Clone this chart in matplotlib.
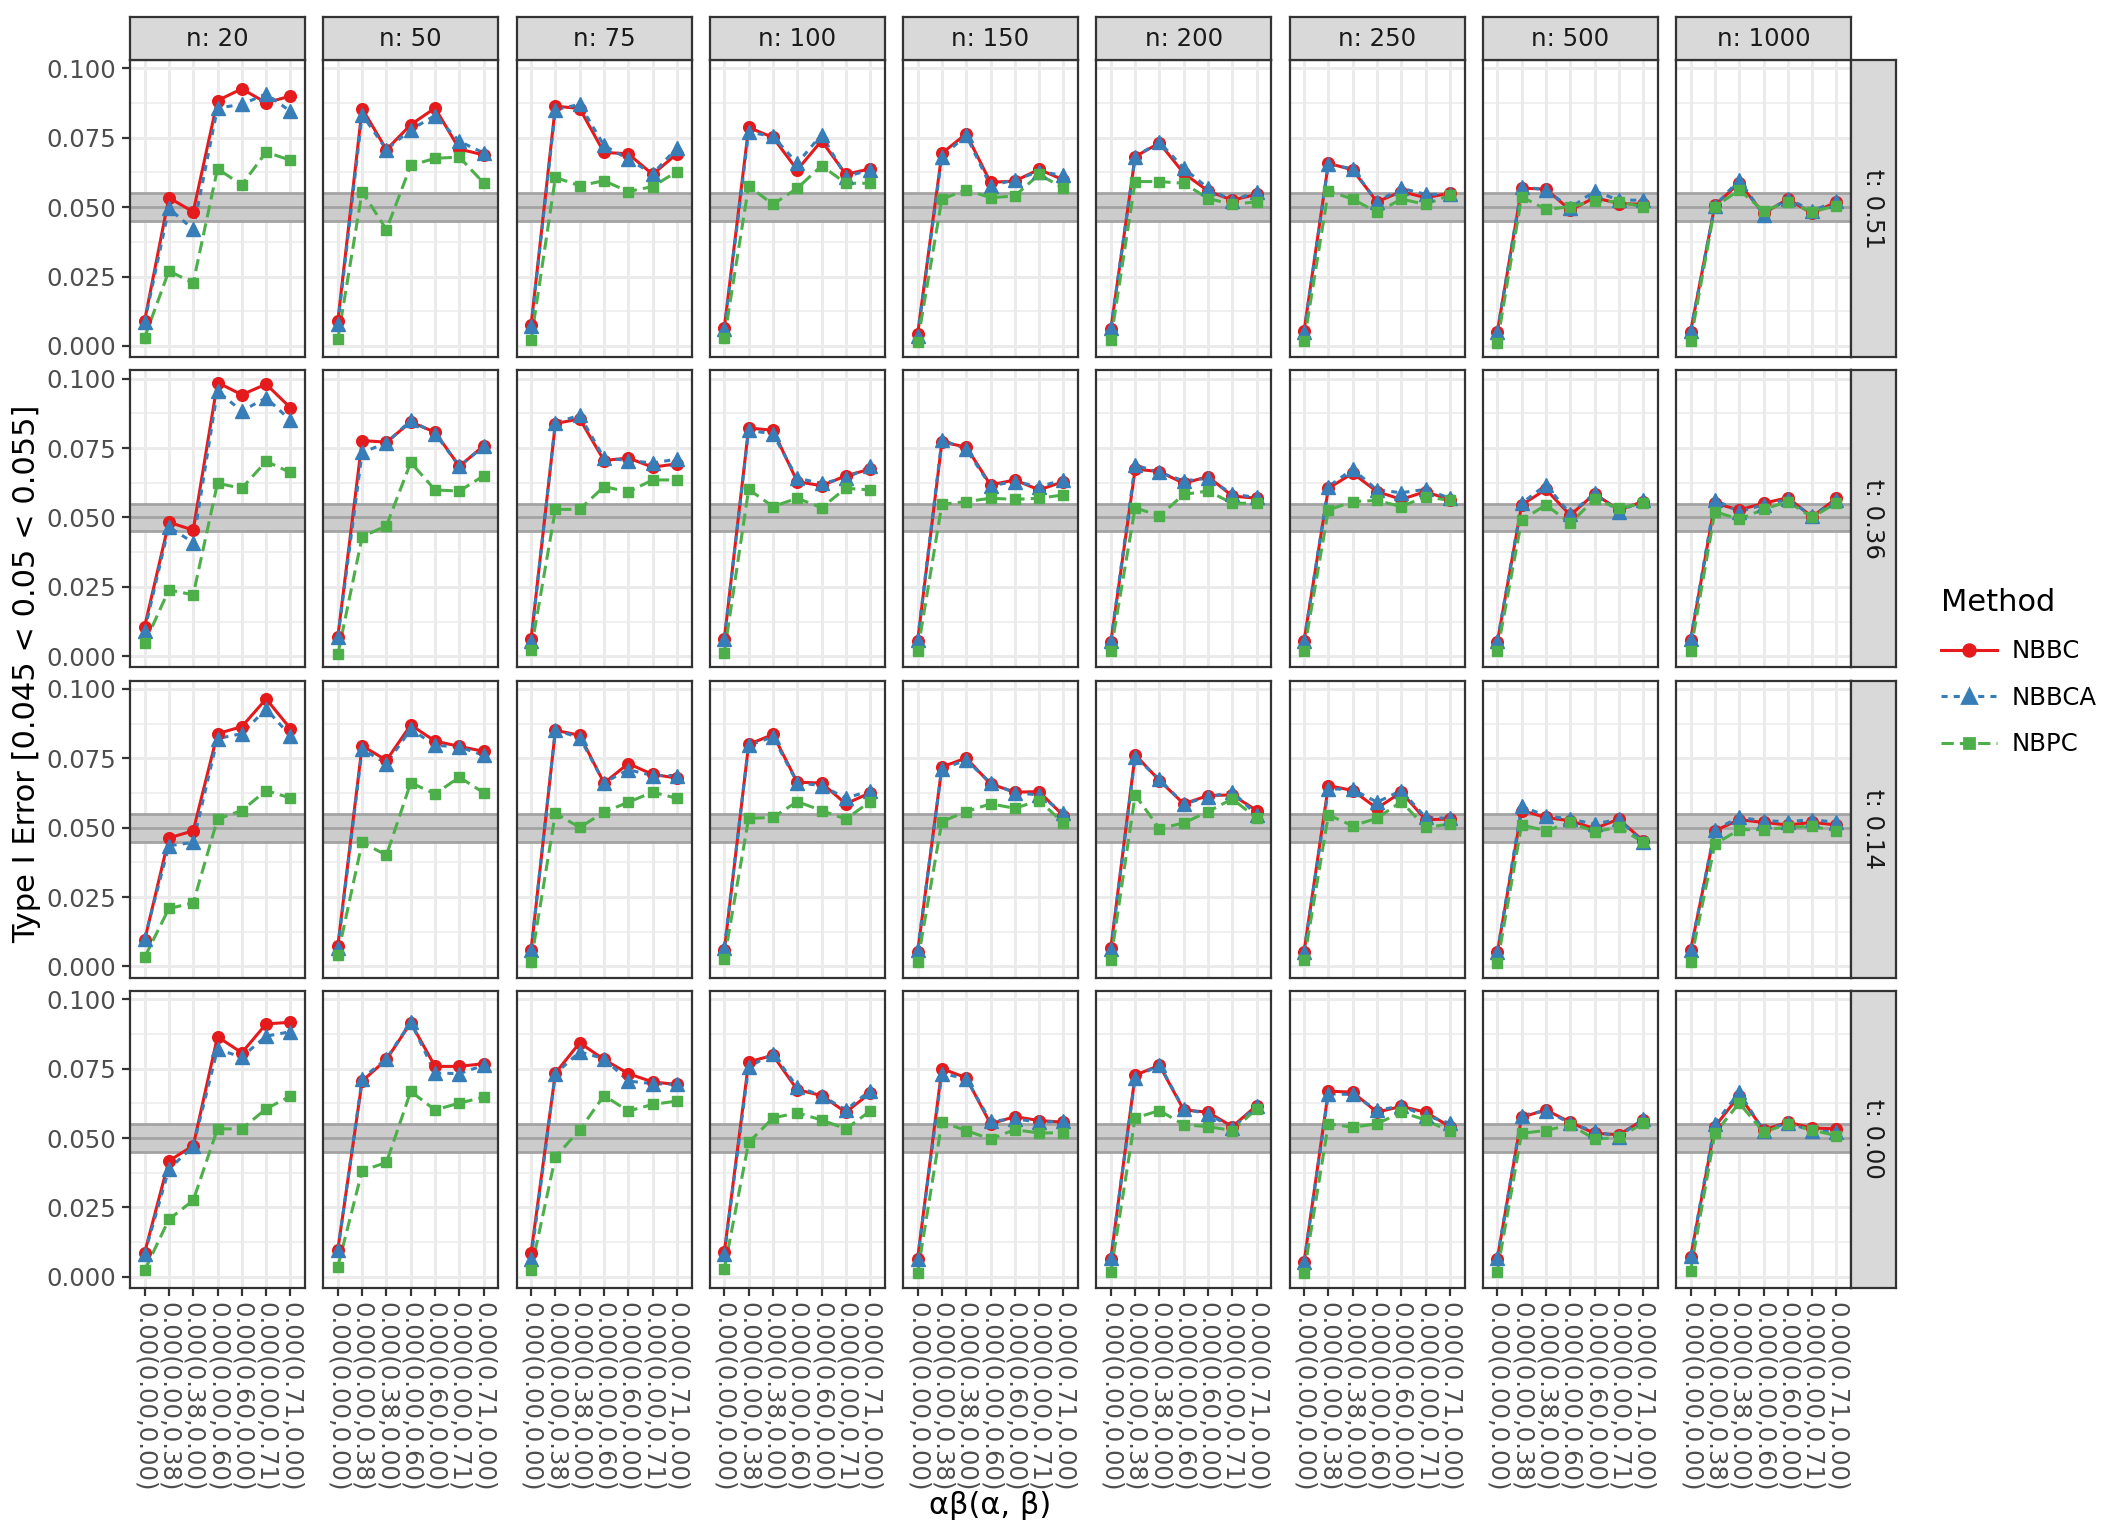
import matplotlib
matplotlib.use("Agg")
import matplotlib.pyplot as plt
from matplotlib.lines import Line2D

plt.rcParams.update({"font.family": "DejaVu Sans"})

# ------------------ DATA ------------------ #
T_LEVELS = ["0.51", "0.36", "0.14", "0.00"]
N_LEVELS = [20, 50, 75, 100, 150, 200, 250, 500, 1000]
X_LABELS = ["0.00(0.00,0.00)", "0.00(0.00,0.38)", "0.00(0.38,0.00)",
            "0.00(0.00,0.60)", "0.00(0.60,0.00)", "0.00(0.00,0.71)",
            "0.00(0.71,0.00)"]
METHODS = ["NBBC", "NBBCA", "NBPC"]

# one list per t level, 9 panels (n) x 7 settings
nbbc_t051 = [
    [0.0090, 0.0534, 0.0483, 0.0884, 0.0926, 0.0876, 0.0900],
    [0.0090, 0.0855, 0.0707, 0.0797, 0.0857, 0.0709, 0.0688],
    [0.0075, 0.0864, 0.0855, 0.0697, 0.0692, 0.0618, 0.0692],
    [0.0066, 0.0787, 0.0751, 0.0634, 0.0739, 0.0618, 0.0638],
    [0.0042, 0.0694, 0.0764, 0.0589, 0.0594, 0.0636, 0.0598],
    [0.0060, 0.0682, 0.0731, 0.0622, 0.0558, 0.0525, 0.0546],
    [0.0054, 0.0658, 0.0634, 0.0519, 0.0556, 0.0534, 0.0550],
    [0.0051, 0.0568, 0.0565, 0.0489, 0.0534, 0.0513, 0.0510],
    [0.0051, 0.0507, 0.0586, 0.0477, 0.0529, 0.0477, 0.0519],
]
nbbca_t051 = [
    [0.0085, 0.0495, 0.0420, 0.0857, 0.0870, 0.0908, 0.0845],
    [0.0078, 0.0833, 0.0707, 0.0779, 0.0830, 0.0737, 0.0695],
    [0.0070, 0.0851, 0.0870, 0.0722, 0.0673, 0.0620, 0.0713],
    [0.0060, 0.0770, 0.0755, 0.0658, 0.0761, 0.0610, 0.0634],
    [0.0036, 0.0682, 0.0758, 0.0577, 0.0598, 0.0628, 0.0614],
    [0.0063, 0.0682, 0.0734, 0.0640, 0.0568, 0.0523, 0.0556],
    [0.0051, 0.0655, 0.0638, 0.0519, 0.0568, 0.0546, 0.0546],
    [0.0051, 0.0574, 0.0562, 0.0497, 0.0558, 0.0525, 0.0525],
    [0.0054, 0.0505, 0.0598, 0.0473, 0.0531, 0.0486, 0.0522],
]
nbpc_t051 = [
    [0.0030, 0.0270, 0.0227, 0.0638, 0.0580, 0.0698, 0.0669],
    [0.0024, 0.0556, 0.0419, 0.0650, 0.0676, 0.0680, 0.0587],
    [0.0020, 0.0607, 0.0577, 0.0595, 0.0556, 0.0574, 0.0628],
    [0.0027, 0.0576, 0.0510, 0.0568, 0.0649, 0.0586, 0.0586],
    [0.0014, 0.0529, 0.0562, 0.0534, 0.0540, 0.0618, 0.0568],
    [0.0022, 0.0592, 0.0592, 0.0586, 0.0531, 0.0510, 0.0519],
    [0.0016, 0.0558, 0.0529, 0.0481, 0.0529, 0.0510, 0.0543],
    [0.0012, 0.0537, 0.0492, 0.0501, 0.0522, 0.0519, 0.0501],
    [0.0018, 0.0501, 0.0562, 0.0486, 0.0519, 0.0483, 0.0505],
]

nbbc_t036 = [
    [0.0106, 0.0483, 0.0454, 0.0986, 0.0942, 0.0980, 0.0895],
    [0.0070, 0.0777, 0.0771, 0.0844, 0.0807, 0.0684, 0.0758],
    [0.0062, 0.0838, 0.0855, 0.0705, 0.0714, 0.0681, 0.0693],
    [0.0062, 0.0822, 0.0814, 0.0629, 0.0614, 0.0650, 0.0674],
    [0.0053, 0.0771, 0.0754, 0.0617, 0.0635, 0.0599, 0.0629],
    [0.0050, 0.0674, 0.0665, 0.0623, 0.0647, 0.0577, 0.0569],
    [0.0056, 0.0605, 0.0659, 0.0593, 0.0565, 0.0593, 0.0563],
    [0.0050, 0.0545, 0.0601, 0.0508, 0.0585, 0.0527, 0.0557],
    [0.0058, 0.0551, 0.0527, 0.0551, 0.0571, 0.0502, 0.0569],
]
nbbca_t036 = [
    [0.0092, 0.0466, 0.0409, 0.0955, 0.0883, 0.0931, 0.0850],
    [0.0068, 0.0734, 0.0768, 0.0850, 0.0802, 0.0684, 0.0756],
    [0.0056, 0.0841, 0.0868, 0.0714, 0.0705, 0.0696, 0.0710],
    [0.0062, 0.0814, 0.0801, 0.0641, 0.0623, 0.0641, 0.0684],
    [0.0058, 0.0780, 0.0746, 0.0614, 0.0629, 0.0611, 0.0635],
    [0.0053, 0.0689, 0.0662, 0.0632, 0.0641, 0.0584, 0.0572],
    [0.0056, 0.0611, 0.0674, 0.0599, 0.0589, 0.0601, 0.0569],
    [0.0053, 0.0551, 0.0617, 0.0512, 0.0587, 0.0521, 0.0561],
    [0.0062, 0.0563, 0.0521, 0.0545, 0.0565, 0.0505, 0.0563],
]
nbpc_t036 = [
    [0.0046, 0.0239, 0.0221, 0.0623, 0.0605, 0.0702, 0.0662],
    [0.0007, 0.0430, 0.0470, 0.0698, 0.0599, 0.0595, 0.0650],
    [0.0022, 0.0529, 0.0529, 0.0611, 0.0592, 0.0635, 0.0635],
    [0.0013, 0.0601, 0.0539, 0.0569, 0.0535, 0.0605, 0.0599],
    [0.0017, 0.0547, 0.0557, 0.0569, 0.0565, 0.0569, 0.0581],
    [0.0019, 0.0535, 0.0505, 0.0583, 0.0595, 0.0551, 0.0551],
    [0.0019, 0.0527, 0.0557, 0.0561, 0.0539, 0.0575, 0.0561],
    [0.0017, 0.0490, 0.0545, 0.0479, 0.0565, 0.0533, 0.0551],
    [0.0017, 0.0521, 0.0493, 0.0529, 0.0557, 0.0500, 0.0553],
]

nbbc_t014 = [
    [0.0094, 0.0463, 0.0489, 0.0839, 0.0864, 0.0964, 0.0857],
    [0.0075, 0.0795, 0.0743, 0.0870, 0.0812, 0.0793, 0.0775],
    [0.0058, 0.0851, 0.0833, 0.0661, 0.0731, 0.0692, 0.0679],
    [0.0058, 0.0800, 0.0836, 0.0664, 0.0661, 0.0586, 0.0626],
    [0.0051, 0.0719, 0.0751, 0.0658, 0.0628, 0.0630, 0.0543],
    [0.0066, 0.0763, 0.0670, 0.0586, 0.0616, 0.0618, 0.0562],
    [0.0054, 0.0652, 0.0634, 0.0570, 0.0628, 0.0529, 0.0531],
    [0.0051, 0.0562, 0.0537, 0.0525, 0.0497, 0.0531, 0.0453],
    [0.0058, 0.0489, 0.0529, 0.0519, 0.0510, 0.0519, 0.0510],
]
nbbca_t014 = [
    [0.0100, 0.0435, 0.0447, 0.0821, 0.0839, 0.0928, 0.0831],
    [0.0066, 0.0783, 0.0731, 0.0855, 0.0797, 0.0791, 0.0761],
    [0.0058, 0.0851, 0.0825, 0.0662, 0.0709, 0.0688, 0.0688],
    [0.0066, 0.0797, 0.0827, 0.0662, 0.0652, 0.0606, 0.0634],
    [0.0058, 0.0713, 0.0743, 0.0662, 0.0626, 0.0618, 0.0553],
    [0.0063, 0.0755, 0.0674, 0.0586, 0.0610, 0.0630, 0.0546],
    [0.0054, 0.0640, 0.0638, 0.0592, 0.0634, 0.0537, 0.0534],
    [0.0051, 0.0577, 0.0543, 0.0531, 0.0513, 0.0531, 0.0447],
    [0.0060, 0.0493, 0.0537, 0.0525, 0.0522, 0.0529, 0.0519],
]
nbpc_t014 = [
    [0.0033, 0.0209, 0.0229, 0.0531, 0.0562, 0.0634, 0.0607],
    [0.0042, 0.0447, 0.0401, 0.0662, 0.0622, 0.0682, 0.0626],
    [0.0018, 0.0552, 0.0501, 0.0556, 0.0592, 0.0628, 0.0606],
    [0.0027, 0.0534, 0.0537, 0.0594, 0.0562, 0.0531, 0.0594],
    [0.0016, 0.0522, 0.0558, 0.0586, 0.0570, 0.0598, 0.0517],
    [0.0024, 0.0618, 0.0497, 0.0517, 0.0558, 0.0604, 0.0534],
    [0.0022, 0.0546, 0.0507, 0.0534, 0.0594, 0.0501, 0.0513],
    [0.0012, 0.0510, 0.0489, 0.0519, 0.0486, 0.0501, 0.0447],
    [0.0018, 0.0441, 0.0493, 0.0493, 0.0501, 0.0505, 0.0489],
]

nbbc_t000 = [
    [0.0086, 0.0418, 0.0472, 0.0865, 0.0807, 0.0911, 0.0917],
    [0.0098, 0.0705, 0.0783, 0.0915, 0.0758, 0.0758, 0.0768],
    [0.0086, 0.0734, 0.0843, 0.0783, 0.0732, 0.0702, 0.0693],
    [0.0089, 0.0774, 0.0798, 0.0674, 0.0653, 0.0593, 0.0662],
    [0.0065, 0.0750, 0.0717, 0.0551, 0.0577, 0.0563, 0.0557],
    [0.0065, 0.0726, 0.0762, 0.0601, 0.0593, 0.0541, 0.0617],
    [0.0053, 0.0669, 0.0665, 0.0593, 0.0614, 0.0593, 0.0541],
    [0.0065, 0.0575, 0.0601, 0.0557, 0.0517, 0.0512, 0.0565],
    [0.0070, 0.0541, 0.0653, 0.0529, 0.0557, 0.0536, 0.0533],
]
nbbca_t000 = [
    [0.0082, 0.0388, 0.0470, 0.0819, 0.0792, 0.0867, 0.0883],
    [0.0095, 0.0714, 0.0786, 0.0918, 0.0734, 0.0732, 0.0762],
    [0.0065, 0.0732, 0.0810, 0.0786, 0.0705, 0.0696, 0.0693],
    [0.0082, 0.0756, 0.0804, 0.0684, 0.0653, 0.0601, 0.0671],
    [0.0065, 0.0732, 0.0714, 0.0560, 0.0569, 0.0557, 0.0560],
    [0.0068, 0.0717, 0.0764, 0.0605, 0.0587, 0.0536, 0.0614],
    [0.0053, 0.0659, 0.0657, 0.0601, 0.0614, 0.0581, 0.0553],
    [0.0068, 0.0581, 0.0599, 0.0553, 0.0524, 0.0505, 0.0569],
    [0.0074, 0.0551, 0.0665, 0.0527, 0.0553, 0.0527, 0.0521],
]
nbpc_t000 = [
    [0.0023, 0.0207, 0.0275, 0.0533, 0.0533, 0.0605, 0.0651],
    [0.0037, 0.0382, 0.0412, 0.0668, 0.0601, 0.0626, 0.0647],
    [0.0025, 0.0432, 0.0529, 0.0653, 0.0597, 0.0621, 0.0633],
    [0.0029, 0.0484, 0.0572, 0.0591, 0.0565, 0.0533, 0.0597],
    [0.0013, 0.0557, 0.0527, 0.0496, 0.0530, 0.0518, 0.0519],
    [0.0017, 0.0572, 0.0599, 0.0548, 0.0541, 0.0527, 0.0605],
    [0.0013, 0.0551, 0.0539, 0.0551, 0.0593, 0.0565, 0.0524],
    [0.0019, 0.0517, 0.0527, 0.0548, 0.0496, 0.0502, 0.0553],
    [0.0022, 0.0517, 0.0626, 0.0521, 0.0551, 0.0529, 0.0508],
]

NBBC = [nbbc_t051, nbbc_t036, nbbc_t014, nbbc_t000]
NBBCA = [nbbca_t051, nbbca_t036, nbbca_t014, nbbca_t000]
NBPC = [nbpc_t051, nbpc_t036, nbpc_t014, nbpc_t000]

# ------------------ STYLE ------------------ #
STYLE = {
    "NBBC": dict(color="#E41A1C", marker="o", ms=4.2, dashes=()),
    "NBBCA": dict(color="#377EB8", marker="^", ms=4.8, dashes=(2, 2)),
    "NBPC": dict(color="#4DAF4A", marker="s", ms=3.9, dashes=(4, 2)),
}
LW = 1.1
W_PX, H_PX, DPI = 2112, 1536, 200

fig = plt.figure(figsize=(W_PX / DPI, H_PX / DPI), dpi=DPI)
fig.patch.set_facecolor("white")


def fx(px):
    return px / W_PX


def fy(py):
    return 1 - py / H_PX


# panel geometry in pixels
X0, PW, GX = 130, 175, 18.25
Y0, PH, GY = 60, 297, 13.3
STRIP_H, STRIP_W = 43, 45

x = list(range(len(X_LABELS)))

for r, t in enumerate(T_LEVELS):
    for c, n in enumerate(N_LEVELS):
        left = X0 + c * (PW + GX)
        top = Y0 + r * (PH + GY)
        ax = fig.add_axes([fx(left), fy(top + PH), PW / W_PX, PH / H_PX])
        ax.set_facecolor("white")
        ax.set_xlim(-0.6, 6.6)
        ax.set_ylim(-0.0040, 0.1030)
        ax.set_yticks([0, 0.025, 0.05, 0.075, 0.1])
        ax.set_yticks([0.0125, 0.0375, 0.0625, 0.0875], minor=True)
        ax.set_xticks(x)
        ax.grid(which="major", color="#EBEBEB", lw=1.07, zorder=0)
        ax.grid(which="minor", axis="y", color="#EBEBEB", lw=0.55, zorder=0)
        ax.set_axisbelow(True)

        ax.axhspan(0.045, 0.055, color="#CCCCCC", lw=0, zorder=1)
        for yv in (0.045, 0.05, 0.055):
            ax.axhline(yv, color="#A3A3A3", lw=1.0, zorder=1.5)

        series = {"NBBC": NBBC[r][c], "NBBCA": NBBCA[r][c], "NBPC": NBPC[r][c]}
        for k, m in enumerate(METHODS):
            st = STYLE[m]
            ln, = ax.plot(x, series[m], color=st["color"], lw=LW, zorder=2 + k,
                          solid_capstyle="butt", dash_capstyle="butt")
            if st["dashes"]:
                ln.set_dashes(st["dashes"])
        for k, m in enumerate(METHODS):
            st = STYLE[m]
            ax.plot(x, series[m], ls="none", marker=st["marker"], ms=st["ms"],
                    color=st["color"], mec=st["color"], mew=0.5, zorder=5 + k)

        for sp in ax.spines.values():
            sp.set_color("#333333")
            sp.set_linewidth(0.8)

        ax.tick_params(which="both", length=0)
        if c == 0:
            ax.tick_params(axis="y", which="major", length=3, width=0.8,
                           color="#333333", labelsize=8.8, labelcolor="#4D4D4D", pad=2)
            ax.set_yticklabels(["0.000", "0.025", "0.050", "0.075", "0.100"])
        else:
            ax.set_yticklabels([])
        if r == len(T_LEVELS) - 1:
            ax.tick_params(axis="x", which="major", length=3, width=0.8,
                           color="#333333", labelsize=8.8, labelcolor="#4D4D4D", pad=2)
            ax.set_xticklabels(X_LABELS, rotation=-90, ha="center", va="top")
        else:
            ax.set_xticklabels([])

        # top strip
        if r == 0:
            sax = fig.add_axes([fx(left), fy(top), PW / W_PX, STRIP_H / H_PX])
            sax.set_facecolor("#D9D9D9")
            sax.set_xticks([])
            sax.set_yticks([])
            for sp in sax.spines.values():
                sp.set_color("#333333")
                sp.set_linewidth(0.8)
            sax.text(0.5, 0.5, f"n: {n}", ha="center", va="center",
                     fontsize=8.8, color="#1A1A1A", transform=sax.transAxes)
        # right strip
        if c == len(N_LEVELS) - 1:
            rax = fig.add_axes([fx(left + PW), fy(top + PH), STRIP_W / W_PX, PH / H_PX])
            rax.set_facecolor("#D9D9D9")
            rax.set_xticks([])
            rax.set_yticks([])
            for sp in rax.spines.values():
                sp.set_color("#333333")
                sp.set_linewidth(0.8)
            rax.text(0.5, 0.5, f"t: {t}", ha="center", va="center", rotation=-90,
                     fontsize=8.8, color="#1A1A1A", transform=rax.transAxes)

# axis titles
fig.text(fx(27), fy(Y0 + (4 * PH + 3 * GY) / 2), "Type I Error [0.045 < 0.05 < 0.055]",
         rotation=90, ha="center", va="center", fontsize=11)
fig.text(fx(X0 + (9 * PW + 8 * GX) / 2), fy(1506), "αβ(α, β)",
         ha="center", va="center", fontsize=11)

# legend
handles = []
for m in METHODS:
    st = STYLE[m]
    h = Line2D([0], [0], color=st["color"], lw=LW, marker=st["marker"],
               ms=st["ms"], mec=st["color"])
    if st["dashes"]:
        h.set_dashes(st["dashes"])
    handles.append(h)
leg = fig.legend(handles, METHODS, title="Method", loc="upper left",
                 bbox_to_anchor=(fx(1919), fy(566)), frameon=False,
                 fontsize=8.8, title_fontsize=11, handlelength=2.3,
                 labelspacing=0.92, handletextpad=0.6, alignment="left")

fig.savefig("out.png", dpi=DPI, facecolor="white")
